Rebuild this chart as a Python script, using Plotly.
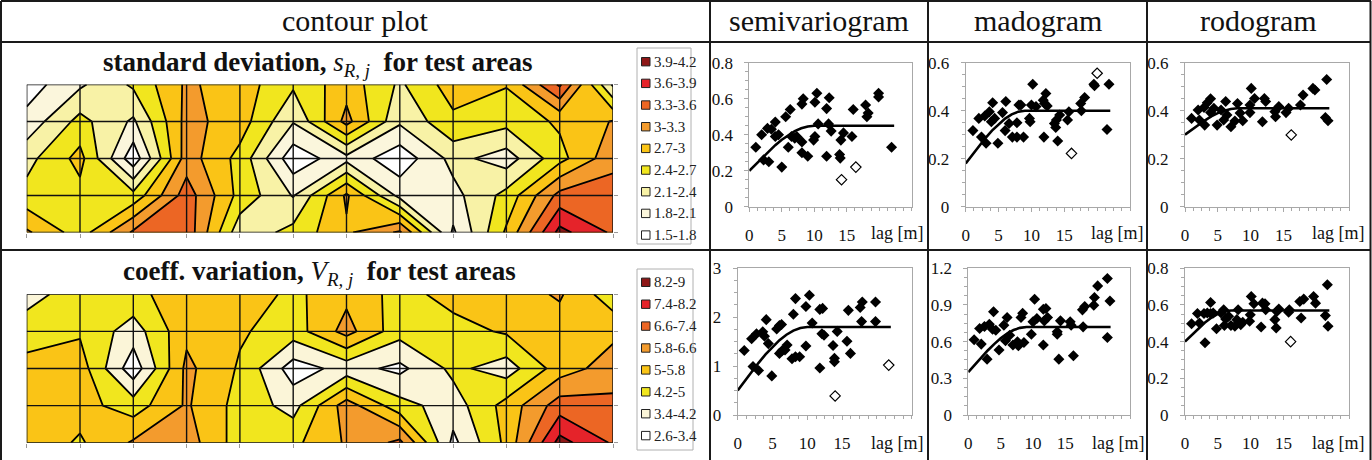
import plotly.graph_objects as go

W, H = 1372, 460
def px(x): return x / W
def py(y): return 1 - y / H

# ---------------- contour data (12 columns x 5 rows, top row first) ----------------
grid_cols = list(range(12))
grid_rows = list(range(5))

s_grid = [
    [1.65, 2.05, 2.45, 3.05, 2.85, 2.45, 2.87, 2.35, 2.85, 2.72, 3.65, 2.05],
    [1.90, 2.50, 2.05, 3.10, 2.85, 2.12, 3.10, 2.15, 2.63, 2.50, 2.75, 3.02],
    [2.30, 2.80, 1.60, 3.15, 2.60, 1.60, 2.00, 1.60, 2.20, 1.95, 2.60, 3.20],
    [2.50, 2.60, 2.50, 3.45, 2.60, 2.08, 3.05, 2.00, 2.00, 2.50, 3.40, 3.45],
    [3.05, 2.55, 3.35, 3.50, 2.20, 2.50, 2.95, 3.35, 1.75, 2.75, 4.00, 3.55],
]
V_grid = [
    [3.9, 4.6, 4.8, 5.4, 5.5, 4.8, 5.6, 4.7, 5.3, 5.4, 5.9, 4.5],
    [4.6, 4.9, 3.8, 5.6, 5.1, 4.6, 6.1, 4.5, 4.7, 5.1, 5.4, 5.6],
    [5.3, 5.4, 2.9, 6.0, 4.9, 3.0, 3.7, 3.2, 4.4, 3.8, 5.4, 6.2],
    [5.4, 5.3, 4.6, 5.9, 4.7, 3.9, 6.2, 4.5, 3.8, 5.3, 7.0, 6.8],
    [5.5, 4.9, 5.9, 6.2, 4.6, 4.8, 5.9, 6.8, 3.2, 5.2, 8.5, 7.3],
]

s_levels = [1.5, 1.8, 2.1, 2.4, 2.7, 3.0, 3.3, 3.6, 3.9, 4.2]
s_band_labels = ["1.5-1.8", "1.8-2.1", "2.1-2.4", "2.4-2.7", "2.7-3", "3-3.3",
                 "3.3-3.6", "3.6-3.9", "3.9-4.2"]
s_band_colors = ["#FFFFFF", "#FBF6DC", "#F8F2A6", "#F1E61E", "#FAC416", "#F39B2D",
                 "#EC6624", "#E5232A", "#8E1717"]

V_levels = [2.6, 3.4, 4.2, 5.0, 5.8, 6.6, 7.4, 8.2, 9.0]
V_band_labels = ["2.6-3.4", "3.4-4.2", "4.2-5", "5-5.8", "5.8-6.6", "6.6-7.4",
                 "7.4-8.2", "8.2-9"]
V_band_colors = ["#FFFFFF", "#FBF5D8", "#F1E61E", "#FAC416", "#F39B2D", "#EC6624",
                 "#E5232A", "#8E1717"]

# ---------------- variogram data ----------------
sv_s_x = [1.0, 1.9, 2.2, 2.8, 3.0, 3.4, 4.0, 4.0, 4.5, 5.0, 5.6, 6.0, 6.3, 6.5, 7.0, 7.3, 8.1, 8.3,
          8.1, 8.1, 9.0, 10.1, 10.1, 9.9, 10.4, 10.6, 11.9, 12.3, 11.9, 12.2, 12.6, 13.9, 14.0,
          14.1, 14.5, 16.0, 15.8, 17.9, 18.1, 18.3, 19.9, 19.9, 21.9]
sv_s_y = [0.33, 0.40, 0.26, 0.435, 0.25, 0.43, 0.47, 0.39, 0.40, 0.22, 0.50, 0.33, 0.54, 0.39,
          0.38, 0.39, 0.57, 0.60, 0.36, 0.30, 0.28, 0.58, 0.39, 0.37, 0.63, 0.46, 0.545, 0.605,
          0.28, 0.46, 0.42, 0.29, 0.27, 0.37, 0.41, 0.54, 0.39, 0.565, 0.50, 0.52, 0.63, 0.61, 0.33]
sv_s_out_x = [14.2, 16.4]
sv_s_out_y = [0.15, 0.22]
sv_s_fit_x = [0, 1, 2, 3, 4, 5, 6, 7, 8, 9, 10, 22.3]
sv_s_fit_y = [0.20, 0.237, 0.274, 0.309, 0.342, 0.372, 0.398, 0.42, 0.436, 0.446, 0.45, 0.45]

md_s_x = [1.1, 2.0, 2.4, 2.9, 3.1, 3.6, 4.1, 3.9, 4.4, 4.9, 5.6, 6.1, 6.0, 6.6, 7.1, 7.8, 8.1, 8.4,
          7.8, 8.8, 9.7, 9.8, 10.2, 10.0, 10.7, 11.8, 11.9, 12.2, 12.4, 12.0, 13.5, 13.8, 13.7,
          14.0, 14.3, 15.5, 15.7, 17.5, 17.6, 18.1, 19.5, 19.6, 21.8, 21.5]
md_s_y = [0.317, 0.368, 0.29, 0.378, 0.264, 0.396, 0.433, 0.354, 0.368, 0.264, 0.392, 0.438,
          0.317, 0.347, 0.29, 0.35, 0.424, 0.424, 0.29, 0.29, 0.368, 0.354, 0.51, 0.424, 0.417,
          0.444, 0.29, 0.472, 0.42, 0.43, 0.347, 0.361, 0.33, 0.274, 0.382, 0.361, 0.396, 0.43,
          0.40, 0.455, 0.51, 0.504, 0.51, 0.322]
md_s_out_x = [20.0, 16.1]
md_s_out_y = [0.556, 0.222]
md_s_fit_x = [0, 1, 2, 3, 4, 5, 6, 7, 8, 9, 22]
md_s_fit_y = [0.18, 0.217, 0.252, 0.286, 0.317, 0.344, 0.367, 0.385, 0.396, 0.40, 0.40]

rd_s_x = [1.0, 2.0, 2.2, 2.9, 3.0, 3.4, 3.9, 3.9, 4.4, 4.9, 5.5, 5.9, 6.2, 6.4, 7.0, 7.6, 8.0, 8.4,
          8.8, 9.9, 9.9, 10.1, 10.6, 12.1, 12.3, 11.8, 13.7, 13.8, 14.3, 15.4, 15.8, 17.6, 18.0,
          19.5, 19.8, 21.6, 21.4, 21.8]
rd_s_y = [0.368, 0.403, 0.361, 0.413, 0.34, 0.433, 0.45, 0.392, 0.41, 0.34, 0.403, 0.361, 0.438,
          0.382, 0.333, 0.357, 0.43, 0.39, 0.358, 0.392, 0.424, 0.493, 0.451, 0.451, 0.438, 0.354,
          0.396, 0.375, 0.417, 0.392, 0.41, 0.424, 0.465, 0.493, 0.486, 0.53, 0.372, 0.358]
rd_s_out_x = [16.2]
rd_s_out_y = [0.299]
rd_s_fit_x = [0, 1, 2, 3, 4, 5, 6, 7, 8, 22]
rd_s_fit_y = [0.30, 0.320, 0.340, 0.359, 0.376, 0.390, 0.400, 0.407, 0.41, 0.41]

sv_V_x = [0.94, 2.0, 2.2, 2.7, 3.0, 3.6, 3.85, 4.1, 4.4, 4.9, 5.6, 6.0, 6.0, 6.3, 6.4, 6.8, 7.1,
          7.8, 8.0, 8.3, 8.3, 8.9, 9.8, 9.8, 10.3, 10.7, 11.8, 12.2, 11.8, 12.1, 12.4, 13.7, 13.9,
          13.9, 14.3, 15.7, 15.9, 16.2, 17.6, 17.9, 17.8, 19.8, 19.8]
sv_V_y = [1.32, 1.56, 0.99, 1.66, 0.91, 1.70, 1.61, 1.95, 1.46, 0.80, 1.76, 1.83, 1.26, 1.85,
          1.32, 1.33, 1.43, 1.15, 2.06, 2.38, 1.19, 1.19, 2.22, 1.41, 2.45, 1.88, 2.16, 2.18, 0.96,
          1.66, 1.63, 1.42, 1.16, 1.09, 1.71, 1.51, 2.14, 1.26, 2.20, 2.31, 1.91, 2.31, 1.91]
sv_V_out_x = [14.0, 21.7]
sv_V_out_y = [0.39, 1.02]
sv_V_fit_x = [0, 1, 2, 3, 4, 5, 6, 7, 8, 9, 10, 22]
sv_V_fit_y = [0.50, 0.694, 0.885, 1.067, 1.238, 1.394, 1.53, 1.642, 1.727, 1.781, 1.80, 1.80]

md_V_x = [0.9, 1.75, 2.0, 2.5, 2.9, 3.25, 3.9, 3.75, 4.25, 4.75, 5.5, 6.0, 5.75, 6.4, 6.9, 7.6,
          7.75, 8.15, 8.4, 8.6, 9.75, 10.0, 10.25, 10.6, 11.6, 12.0, 11.75, 12.25, 11.6, 13.75,
          13.75, 14.0, 14.25, 15.75, 15.9, 16.25, 17.65, 18.0, 17.75, 19.4, 20.0, 19.5, 21.5,
          21.9, 21.5]
md_V_y = [0.615, 0.707, 0.58, 0.724, 0.457, 0.743, 0.844, 0.702, 0.694, 0.531, 0.735, 0.797,
          0.607, 0.653, 0.572, 0.599, 0.566, 0.797, 0.833, 0.593, 0.661, 0.762, 0.947, 0.789,
          0.865, 0.871, 0.770, 0.797, 0.572, 0.680, 0.661, 0.457, 0.770, 0.762, 0.735, 0.484,
          0.860, 0.887, 0.721, 0.898, 1.056, 0.961, 1.116, 0.933, 0.634]
md_V_fit_x = [0, 1, 2, 3, 4, 5, 6, 7, 8, 9, 22]
md_V_fit_y = [0.35, 0.411, 0.471, 0.528, 0.580, 0.627, 0.665, 0.695, 0.713, 0.72, 0.72]

rd_V_x = [1.0, 1.9, 2.2, 2.9, 3.05, 3.4, 3.9, 3.9, 4.3, 4.8, 5.5, 5.9, 6.2, 6.0, 6.65, 7.0, 7.6,
          7.9, 8.1, 8.5, 8.8, 9.85, 9.95, 10.1, 10.5, 11.6, 11.8, 12.2, 12.3, 13.7, 13.9, 14.0,
          14.3, 15.8, 15.9, 17.5, 17.7, 18.1, 19.6, 19.9, 21.7, 21.4, 21.8]
rd_V_y = [0.498, 0.553, 0.502, 0.553, 0.394, 0.556, 0.614, 0.553, 0.556, 0.47, 0.556, 0.574,
          0.524, 0.488, 0.538, 0.488, 0.484, 0.52, 0.574, 0.493, 0.506, 0.511, 0.547, 0.646,
          0.607, 0.48, 0.61, 0.607, 0.574, 0.52, 0.475, 0.565, 0.578, 0.56, 0.574, 0.619, 0.529,
          0.632, 0.646, 0.61, 0.71, 0.542, 0.484]
rd_V_out_x = [16.1]
rd_V_out_y = [0.40]
rd_V_fit_x = [0, 1, 2, 3, 4, 5, 6, 7, 22]
rd_V_fit_y = [0.40, 0.436, 0.471, 0.503, 0.530, 0.551, 0.565, 0.57, 0.57]

headers = ["contour plot", "semivariogram", "madogram", "rodogram"]

SERIF = "Liberation Serif, Times New Roman, serif"
fig = go.Figure()


def step_scale(colors):
    n = len(colors)
    sc = []
    for k, c in enumerate(colors):
        lo = 0 if k == 0 else (k - 0.4) / (n - 1)
        hi = 1 if k == n - 1 else (k + 0.4) / (n - 1)
        sc.append([lo, c])
        sc.append([hi, c])
    return sc


def add_contour(z, levels, band_colors, xa, ya):
    cols_all = [band_colors[0]] + band_colors + [band_colors[-1]]
    fig.add_trace(go.Contour(
        z=z, x=grid_cols, y=grid_rows,
        contours=dict(start=levels[0], end=levels[-1], size=round(levels[1] - levels[0], 3),
                      coloring="fill", showlines=True),
        line=dict(color="black", width=1.8, smoothing=0),
        colorscale=step_scale(cols_all), showscale=False,
        xaxis=xa, yaxis=ya, hoverinfo="skip"))


add_contour(s_grid, s_levels, s_band_colors, "x", "y")
add_contour(V_grid, V_levels, V_band_colors, "x2", "y2")

scatter_sets = [
    ("x3", "y3", sv_s_x, sv_s_y, sv_s_out_x, sv_s_out_y, sv_s_fit_x, sv_s_fit_y),
    ("x4", "y4", md_s_x, md_s_y, md_s_out_x, md_s_out_y, md_s_fit_x, md_s_fit_y),
    ("x5", "y5", rd_s_x, rd_s_y, rd_s_out_x, rd_s_out_y, rd_s_fit_x, rd_s_fit_y),
    ("x6", "y6", sv_V_x, sv_V_y, sv_V_out_x, sv_V_out_y, sv_V_fit_x, sv_V_fit_y),
    ("x7", "y7", md_V_x, md_V_y, [], [], md_V_fit_x, md_V_fit_y),
    ("x8", "y8", rd_V_x, rd_V_y, rd_V_out_x, rd_V_out_y, rd_V_fit_x, rd_V_fit_y),
]
for xa, ya, x, y, ox, oy, fx, fy in scatter_sets:
    fig.add_trace(go.Scatter(x=fx, y=fy, mode="lines", line=dict(color="black", width=2.6),
                             xaxis=xa, yaxis=ya, hoverinfo="skip"))
    fig.add_trace(go.Scatter(x=x, y=y, mode="markers",
                             marker=dict(symbol="diamond", size=8.5, color="black"),
                             xaxis=xa, yaxis=ya))
    if ox:
        fig.add_trace(go.Scatter(x=ox, y=oy, mode="markers",
                                 marker=dict(symbol="diamond-open", size=8, color="black",
                                             line=dict(width=1.2)),
                                 xaxis=xa, yaxis=ya))

layout = dict(width=W, height=H, margin=dict(l=0, r=0, t=0, b=0, autoexpand=False),
              showlegend=False, paper_bgcolor="white", plot_bgcolor="white",
              font=dict(family=SERIF, color="#111"))

# contour axes
cont_dom = [((26.7, 613), (84.5, 232.5)), ((26.7, 613), (294.3, 442.7))]
for i, ((x0, x1), (y0, y1)) in enumerate(cont_dom):
    sfx = "" if i == 0 else "2"
    layout["xaxis" + sfx] = dict(domain=[px(x0), px(x1)], range=[0, 11], showgrid=False,
                                 zeroline=False, showticklabels=False, ticks="outside",
                                 ticklen=4, tickcolor="#999", tickvals=grid_cols,
                                 anchor="y" + sfx)
    layout["yaxis" + sfx] = dict(domain=[py(y1), py(y0)], range=[4, 0], showgrid=False,
                                 zeroline=False, showticklabels=False, ticks="outside",
                                 ticklen=4, tickcolor="#999", tickvals=grid_rows, side="right",
                                 anchor="x" + sfx)

# scatter axes
top_y, bot_y = (62.7, 206.7), (268.3, 415.0)
sc_dom = [
    ((749.3, 911.7), top_y, 0.8, 0.2),
    ((965.7, 1130), top_y, 0.6, 0.2),
    ((1185, 1349), top_y, 0.6, 0.2),
    ((737.7, 911.7), bot_y, 3, 1),
    ((968.3, 1130), bot_y, 1.2, 0.3),
    ((1185, 1349), bot_y, 0.8, 0.2),
]
for i, ((x0, x1), (y0, y1), ymax, dy) in enumerate(sc_dom):
    n = str(i + 3)
    layout["xaxis" + n] = dict(domain=[px(x0), px(x1)], range=[0, 25], anchor="y" + n,
                               tickvals=[0, 5, 10, 15], showgrid=False, zeroline=False,
                               showline=True, linecolor="#a8a8a8", mirror=True,
                               ticks="outside", ticklen=4, tickcolor="#a8a8a8",
                               ticklabelstandoff=9,
                               minor=dict(dtick=1.25, tick0=0, ticks="outside", ticklen=3,
                                          tickcolor="#a8a8a8"),
                               tickfont=dict(size=17, family=SERIF, color="#111"))
    layout["yaxis" + n] = dict(domain=[py(y1), py(y0)], range=[0, ymax], anchor="x" + n,
                               dtick=dy, tick0=0, showgrid=False, zeroline=False,
                               showline=True, linecolor="#a8a8a8", mirror=True,
                               ticks="outside", ticklen=4, tickcolor="#a8a8a8",
                               ticklabelstandoff=8,
                               minor=dict(dtick=dy / 4, tick0=0, ticks="outside", ticklen=3,
                                          tickcolor="#a8a8a8"),
                               tickfont=dict(size=17, family=SERIF, color="#111"))

shapes = []
annotations = []

# grid lines over contour fills
for xa, ya in [("x", "y"), ("x2", "y2")]:
    for c in grid_cols:
        shapes.append(dict(type="line", xref=xa, yref=ya, x0=c, x1=c, y0=0, y1=4,
                           line=dict(color="#111", width=1.4), layer="above"))
    for r in grid_rows:
        shapes.append(dict(type="line", xref=xa, yref=ya, x0=0, x1=11, y0=r, y1=r,
                           line=dict(color="#111", width=1.4), layer="above"))

# table lines
TL = dict(color="#1a1a1a", width=2)
for (x0, y0, x1, y1) in [(1, 1, 1371, 1), (1, 42, 1371, 42), (1, 250, 1371, 250),
                         (1, 1, 1, 460), (1370.5, 1, 1370.5, 460),
                         (710, 1, 710, 460), (928, 1, 928, 460), (1147, 1, 1147, 460)]:
    shapes.append(dict(type="line", xref="paper", yref="paper", x0=px(x0), x1=px(x1),
                       y0=py(y0), y1=py(y1), line=TL, layer="above"))

# headers
for txt, cx in zip(headers, [355, 819, 1037.5, 1258.5]):
    annotations.append(dict(text=txt, x=px(cx), y=py(21), xref="paper", yref="paper",
                            showarrow=False, xanchor="center", yanchor="middle",
                            font=dict(size=30, family=SERIF, color="#111")))

# contour titles
annotations.append(dict(
    text="<b>standard deviation,</b> <i>s</i><sub><i>R, j</i></sub>  <b>for test areas</b>",
    x=px(318), y=py(64), xref="paper", yref="paper", showarrow=False,
    xanchor="center", yanchor="middle", font=dict(size=27, family=SERIF, color="#111")))
annotations.append(dict(
    text="<b>coeff. variation,</b> <i>V</i><sub><i>R, j</i></sub>  <b>for test areas</b>",
    x=px(319), y=py(273), xref="paper", yref="paper", showarrow=False,
    xanchor="center", yanchor="middle", font=dict(size=27, family=SERIF, color="#111")))

# legends
def add_legend(labels, colors, box, y_first, step):
    bx0, by0, bx1, by1 = box
    shapes.append(dict(type="rect", xref="paper", yref="paper", x0=px(bx0), x1=px(bx1),
                       y0=py(by1), y1=py(by0), line=dict(color="#b0b0b0", width=1),
                       fillcolor="white", layer="above"))
    n = len(labels)
    for k in range(n):
        idx = n - 1 - k  # highest band first
        yc = y_first + k * step
        shapes.append(dict(type="rect", xref="paper", yref="paper", x0=px(641.5), x1=px(650),
                           y0=py(yc + 4.2), y1=py(yc - 4.2),
                           line=dict(color="#222", width=1), fillcolor=colors[idx],
                           layer="above"))
        annotations.append(dict(text=labels[idx], x=px(652), y=py(yc), xref="paper",
                                yref="paper", showarrow=False, xanchor="left",
                                yanchor="middle",
                                font=dict(size=15, family=SERIF, color="#222")))


add_legend(s_band_labels, s_band_colors, (637, 48, 691, 244), 61.7, 21.67)
add_legend(V_band_labels, V_band_colors, (637, 269, 693, 450), 282.3, 21.9)

# lag labels
for cx, cy in [(896.7, 233.3), (1116.7, 233.3), (1337.7, 233.3),
               (896.7, 443.3), (1117.7, 442.7), (1337.7, 443.3)]:
    annotations.append(dict(text="lag [m]", x=px(cx), y=py(cy), xref="paper", yref="paper",
                            showarrow=False, xanchor="center", yanchor="middle",
                            font=dict(size=18, family=SERIF, color="#111")))

layout["shapes"] = shapes
layout["annotations"] = annotations
fig.update_layout(**layout)
fig.write_html("out.html", config={"displayModeBar": False},
               post_script="document.body.style.margin='0';document.body.style.overflow='hidden';")
